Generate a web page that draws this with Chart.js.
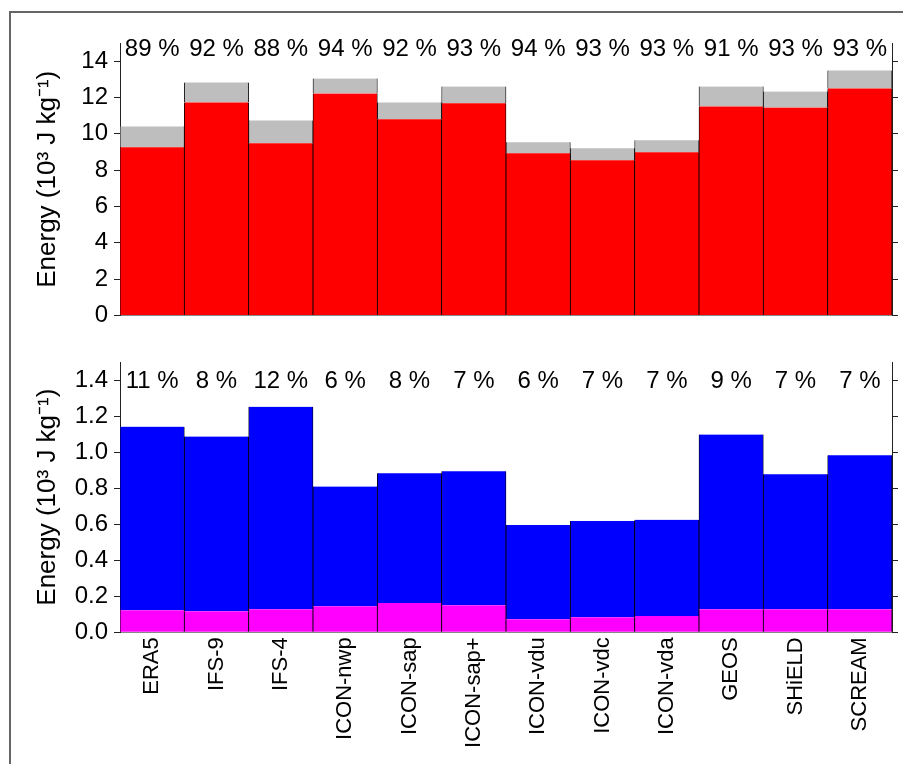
<html lang="en">
<head>
    <meta charset="UTF-8">
    <title>Energy per model</title>
    <script src="https://cdn.jsdelivr.net/npm/chart.js"></script>
    <style>
        body { margin: 0; background: #fff; }
        #wrap { position: relative; width: 903px; height: 764px; overflow: hidden; }
        #frame { position: absolute; left: 9px; top: 11px; width: 1000px; height: 1000px;
                 border-left: 2px solid #666; border-top: 2px solid #666; }
        canvas { position: absolute; left: 0; }
        #topChart { top: 0; }
        #lowChart { top: 340px; }
    </style>
</head>
<body>
<div id="wrap">
    <div id="frame"></div>
    <canvas id="topChart" width="903" height="340"></canvas>
    <canvas id="lowChart" width="903" height="424"></canvas>
</div>

<script>
    const models = ['ERA5', 'IFS-9', 'IFS-4', 'ICON-nwp', 'ICON-sap', 'ICON-sap+',
                    'ICON-vdu', 'ICON-vdc', 'ICON-vda', 'GEOS', 'SHiELD', 'SCREAM'];

    // upper panel (10^3 J/kg)
    const topRed   = [9.26, 11.73, 9.48, 12.22, 10.80, 11.68, 8.93, 8.54, 8.98, 11.51, 11.45, 12.50];
    const topTotal = [10.41, 12.83, 10.74, 13.04, 11.73, 12.60, 9.53, 9.20, 9.64, 12.60, 12.33, 13.49];
    const topPercent = [89, 92, 88, 94, 92, 93, 94, 93, 93, 91, 93, 93];

    // lower panel (10^3 J/kg)
    const lowMagenta = [0.123, 0.117, 0.128, 0.145, 0.163, 0.150, 0.073, 0.084, 0.090, 0.128, 0.128, 0.128];
    const lowTotal   = [1.141, 1.086, 1.251, 0.809, 0.883, 0.894, 0.596, 0.618, 0.624, 1.097, 0.877, 0.982];
    const lowPercent = [11, 8, 12, 6, 8, 7, 6, 7, 7, 9, 7, 7];

    Chart.defaults.font.family = '"Liberation Sans", Arial, sans-serif';
    Chart.defaults.color = '#000';

    const axisColor = '#222';
    const sides = { left: 0.8, right: 0.8, top: 0, bottom: 0 };

    function barSet(values, color) {
        return {
            data: values,
            backgroundColor: color,
            borderColor: '#000',
            borderWidth: sides,
            borderSkipped: false,
            categoryPercentage: 1.0,
            barPercentage: 1.0
        };
    }

    // percentage row written along the top of each panel
    function percentRow(texts, offset) {
        return {
            id: 'percentRow',
            afterDatasetsDraw(chart) {
                const ctx = chart.ctx;
                const xs = chart.scales.x;
                ctx.save();
                ctx.font = '24px "Liberation Sans", Arial, sans-serif';
                ctx.fillStyle = '#000';
                ctx.textAlign = 'center';
                ctx.textBaseline = 'alphabetic';
                texts.forEach(function (t, i) {
                    ctx.fillText(t + ' %', xs.getPixelForValue(i), chart.chartArea.top + offset);
                });
                ctx.restore();
            }
        };
    }

    function panelOptions(yMax, step, fmt, pad, xHeight, showNames) {
        return {
            responsive: false,
            animation: false,
            layout: { padding: pad },
            plugins: { legend: { display: false }, tooltip: { enabled: false } },
            scales: {
                x: {
                    stacked: true,
                    grid: { display: false },
                    border: { display: true, color: '#888', width: 1 },
                    ticks: {
                        display: showNames,
                        autoSkip: false,
                        maxRotation: 90,
                        minRotation: 90,
                        padding: -3,
                        font: { size: 22 }
                    },
                    afterFit: function (s) { s.height = xHeight; }
                },
                y: {
                    stacked: true,
                    min: 0,
                    max: yMax,
                    position: 'left',
                    grid: { drawOnChartArea: false, drawTicks: true, tickLength: 6, color: axisColor },
                    border: { display: true, color: axisColor, width: 1 },
                    ticks: {
                        stepSize: step,
                        includeBounds: false,
                        padding: 6,
                        font: { size: 24 },
                        callback: fmt
                    },
                    title: {
                        display: true,
                        text: 'Energy (10³ J kg⁻¹)',
                        font: { size: 26 },
                        padding: { top: 32, bottom: 0 }
                    },
                    afterFit: function (s) { s.width = 120; }
                },
                y2: {
                    min: 0,
                    max: yMax,
                    position: 'right',
                    grid: { drawOnChartArea: false, drawTicks: true, tickLength: 6, color: axisColor },
                    border: { display: true, color: axisColor, width: 1 },
                    ticks: { display: false, stepSize: step, includeBounds: false },
                    afterFit: function (s) { s.width = 11; }
                }
            }
        };
    }

    new Chart(document.getElementById('topChart').getContext('2d'), {
        type: 'bar',
        data: {
            labels: models,
            datasets: [
                barSet(topRed, '#ff0000'),
                barSet(topTotal.map(function (v, i) { return v - topRed[i]; }), '#bebebe')
            ]
        },
        options: panelOptions(15, 2, function (v) { return v; },
            { left: 0, right: 0, top: 43, bottom: 20.5 }, 4, false),
        plugins: [percentRow(topPercent, 13)]
    });

    new Chart(document.getElementById('lowChart').getContext('2d'), {
        type: 'bar',
        data: {
            labels: models,
            datasets: [
                barSet(lowMagenta, '#ff00ff'),
                barSet(lowTotal.map(function (v, i) { return v - lowMagenta[i]; }), '#0000ff')
            ]
        },
        options: panelOptions(1.5, 0.2, function (v) { return v.toFixed(1); },
            { left: 0, right: 0, top: 22, bottom: 1.7 }, 130, true),
        plugins: [percentRow(lowPercent, 26)]
    });
</script>
</body>
</html>
